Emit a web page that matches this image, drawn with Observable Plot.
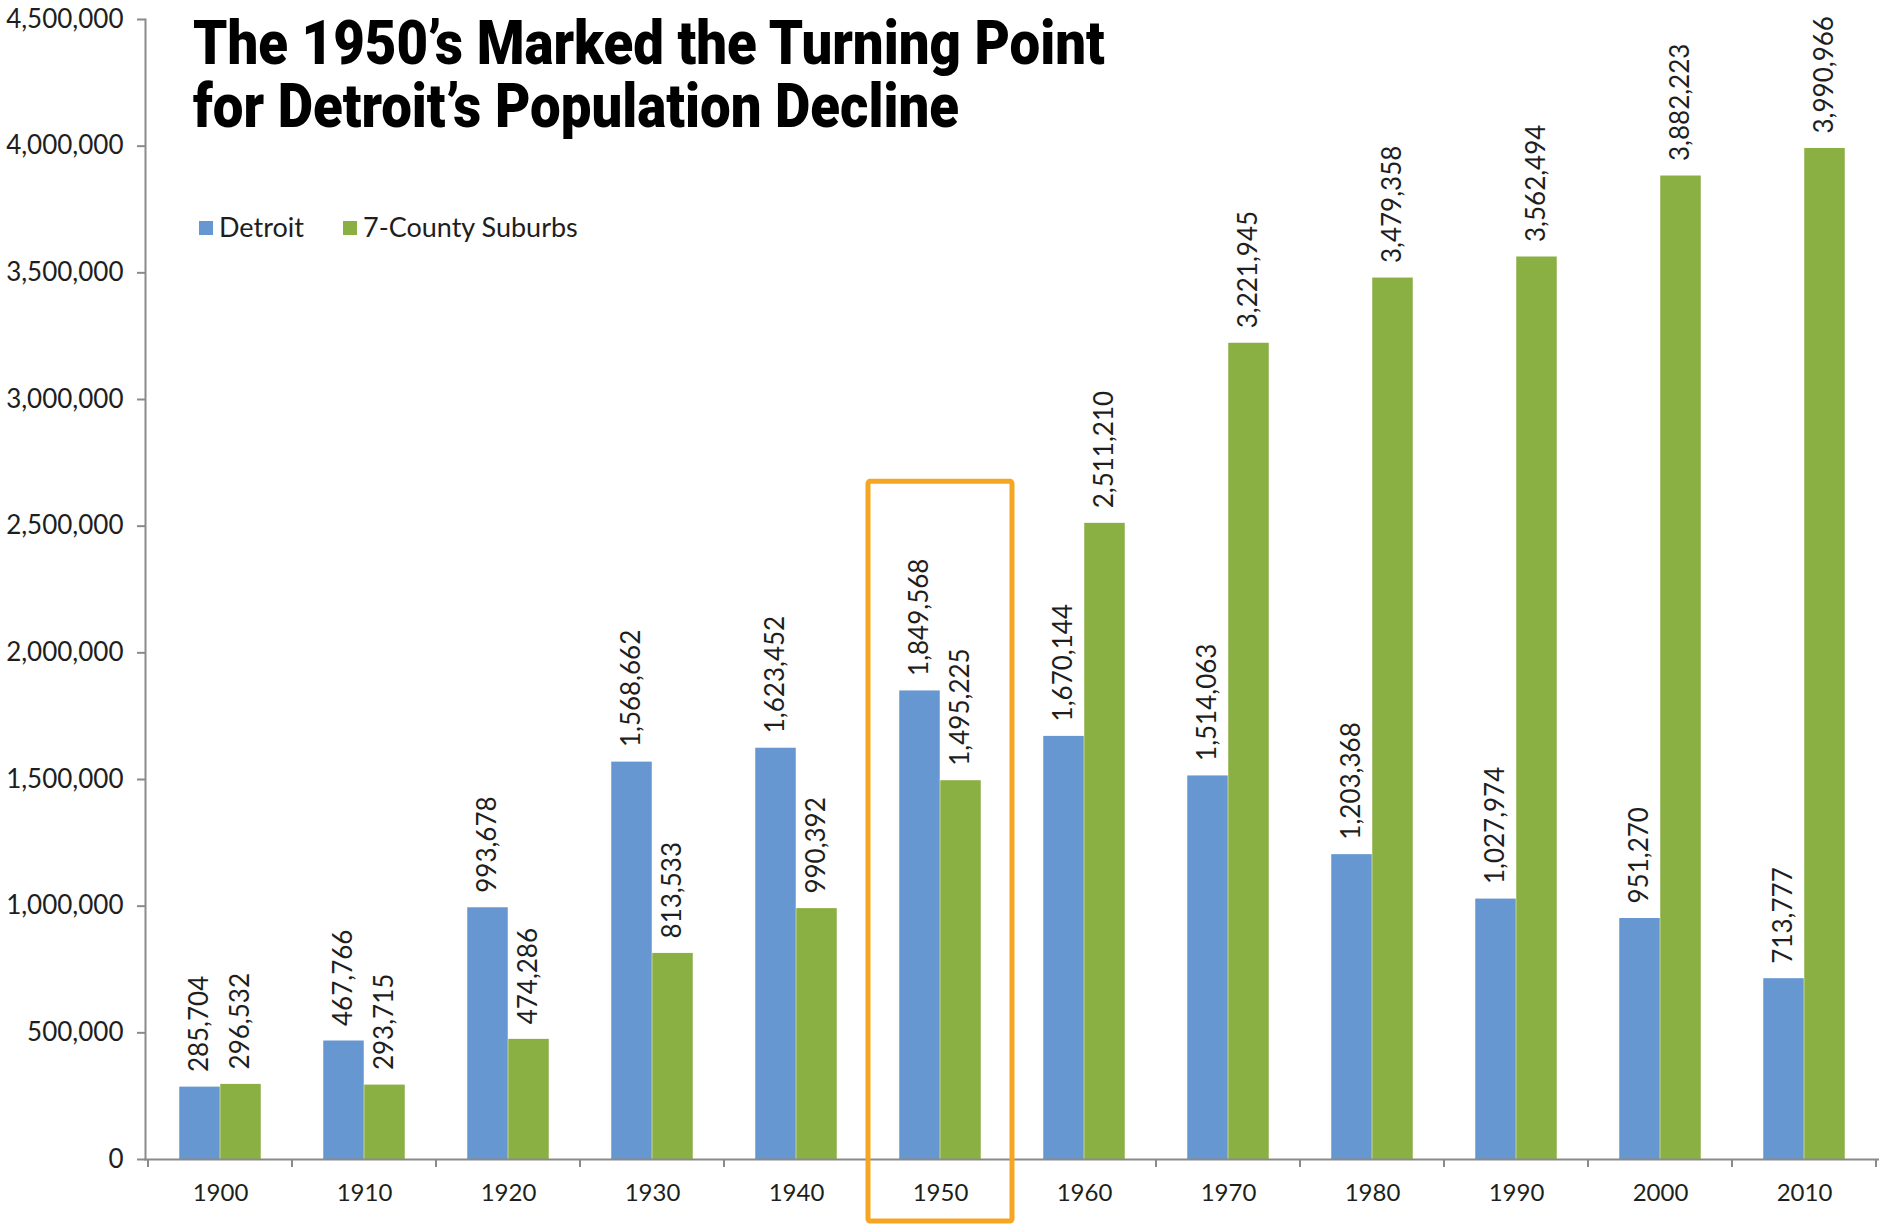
<!DOCTYPE html>
<html><head><meta charset="utf-8">
<script src="https://cdn.jsdelivr.net/npm/d3@7"></script>
<script src="https://cdn.jsdelivr.net/npm/@observablehq/plot@0.6"></script>
<style>
body{margin:0;background:#fff;}
#chart{position:relative;width:1879px;height:1225px;overflow:hidden;}
</style></head><body><div id="chart"></div>
<script>
const years = ["1900","1910","1920","1930","1940","1950","1960","1970","1980","1990","2000","2010"];
const detroit = [285704, 467766, 993678, 1568662, 1623452, 1849568, 1670144, 1514063, 1203368, 1027974, 951270, 713777];
const suburbs = [296532, 293715, 474286, 813533, 990392, 1495225, 2511210, 3221945, 3479358, 3562494, 3882223, 3990966];
const yTicks = [0, 500000, 1000000, 1500000, 2000000, 2500000, 3000000, 3500000, 4000000, 4500000];
const seriesNames = ["Detroit", "7-County Suburbs"];
const seriesColors = ["#6697d1", "#8ab043"];
const titleLines = ["The 1950\u2019s Marked the Turning Point", "for Detroit\u2019s Population Decline"];
const highlightYear = "1950";
const highlightTop = 2675000;
const highlightBottom = -245000;

const fmt = d3.format(",");
const rowsD = years.map((year, i) => ({year, series: seriesNames[0], value: detroit[i]}));
const rowsS = years.map((year, i) => ({year, series: seriesNames[1], value: suburbs[i]}));

const W = 1879, H = 1225, ML = 145, MR = 0, MT = 19, MB = 66;
const bw = (W - ML - MR) / years.length;
const barW = 41;
const half = bw / 2;
const axisColor = "#8a8a8a";
const textColor = "#1e1e1e";

function boundaryTicks(index, scales, values, dimensions, context) {
  const x = scales.x, y = scales.y;
  const b = x.bandwidth ? x.bandwidth() : bw;
  const y0 = y(0);
  const xs = years.map(d => x(d)).concat([x(years[years.length - 1]) + b]);
  const g = d3.create("svg:g");
  g.selectAll("line").data(xs).join("line")
    .attr("x1", d => d).attr("x2", d => d)
    .attr("y1", y0).attr("y2", y0 + 8)
    .attr("stroke", axisColor).attr("stroke-width", 2);
  return g.node();
}

const svg = Plot.plot({
  width: W, height: H,
  marginLeft: ML, marginRight: MR, marginTop: MT, marginBottom: MB,
  style: {fontFamily: "Lato, 'Open Sans', sans-serif", fontSize: "24px", color: textColor, background: "#fff"},
  x: {type: "band", domain: years, padding: 0},
  y: {domain: [0, 4500000]},
  marks: [
    Plot.axisY({ticks: yTicks, tickFormat: fmt, tickSize: 8, tickPadding: 14, stroke: axisColor, strokeWidth: 2, fontSize: 26, fill: textColor, label: null}),
    Plot.axisX({tickSize: 0, tickPadding: 24, fontSize: 24, fill: textColor, label: null}),
    Plot.barY(rowsD, {x: "year", y: "value", fill: seriesColors[0], insetLeft: half - barW, insetRight: half}),
    Plot.barY(rowsS, {x: "year", y: "value", fill: seriesColors[1], insetLeft: half, insetRight: half - barW}),
    Plot.frame({anchor: "left", stroke: axisColor, strokeWidth: 2}),
    Plot.frame({anchor: "bottom", stroke: axisColor, strokeWidth: 2}),
    boundaryTicks,
    Plot.text(rowsD, {x: "year", y: "value", text: d => fmt(d.value), rotate: -90, textAnchor: "start", dx: -barW / 2, dy: -15, fontSize: 26, fill: textColor}),
    Plot.text(rowsS, {x: "year", y: "value", text: d => fmt(d.value), rotate: -90, textAnchor: "start", dx: barW / 2, dy: -15, fontSize: 26, fill: textColor}),
    Plot.barY([highlightYear], {x: d => d, y1: highlightBottom, y2: highlightTop, fill: "none", stroke: "#f5a623", strokeWidth: 5, rx: 2, clip: false})
  ]
});
document.getElementById("chart").appendChild(svg);

const root = d3.select(svg);
// Title
const tg = root.append("g").attr("font-family", "Roboto, Lato, sans-serif").attr("font-weight", 900).attr("font-size", 62).attr("fill", "#000").attr("text-anchor", "start");
const t1 = tg.append("text").attr("x", 0).attr("y", 0).attr("text-anchor", "start").text(titleLines[0]);
const t2 = tg.append("text").attr("x", 0).attr("y", 63).attr("text-anchor", "start").text(titleLines[1]);
const w1 = t1.node().getComputedTextLength();
const sx = 912 / w1;
tg.attr("transform", `translate(193,64) scale(${sx},1)`);

// Legend
const lg = root.append("g").attr("font-family", "Lato, 'Open Sans', sans-serif").attr("font-size", 27).attr("fill", textColor).attr("text-anchor", "start");
const legendX = [199, 343];
seriesNames.forEach((name, i) => {
  lg.append("rect").attr("x", legendX[i]).attr("y", 221).attr("width", 14).attr("height", 14).attr("fill", seriesColors[i]);
  lg.append("text").attr("x", legendX[i] + 20).attr("y", 228).attr("dy", "0.35em").attr("text-anchor", "start").text(name);
});
</script></body></html>
